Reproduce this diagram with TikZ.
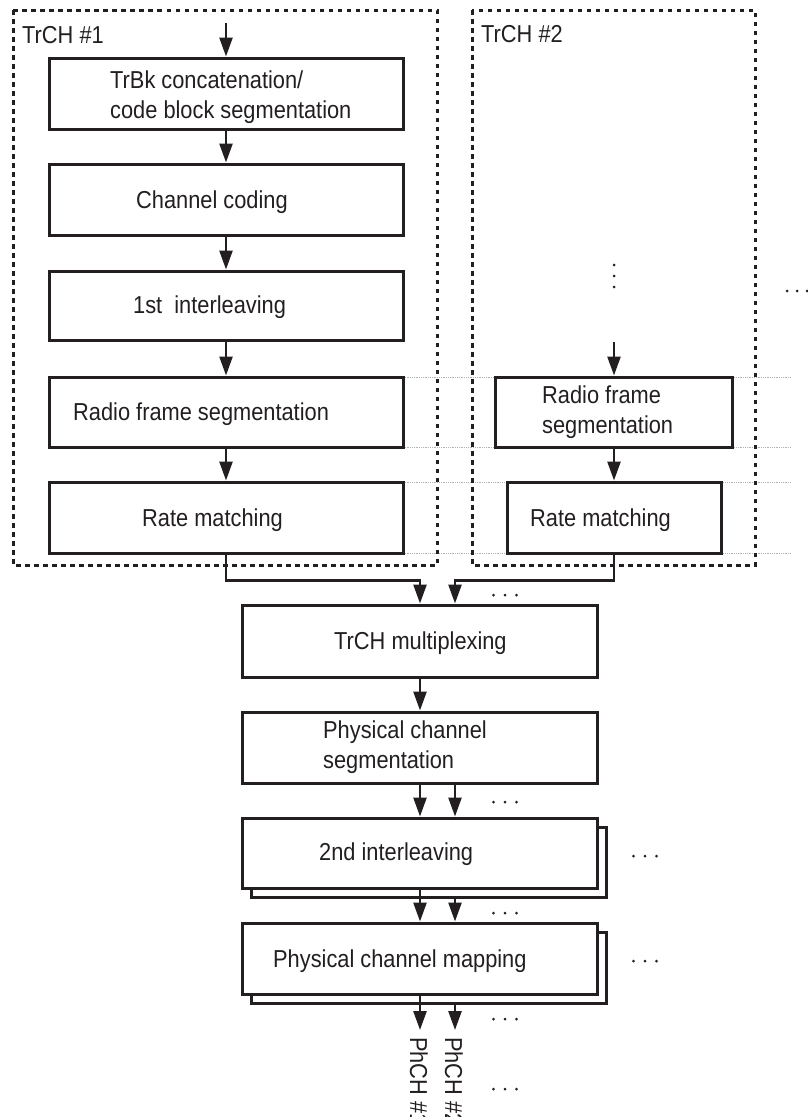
\documentclass[tikz,border=0pt]{standalone}
\usepackage{fontspec}
\setmainfont{Liberation Sans}[FakeStretch=0.89]
\usetikzlibrary{arrows.meta}
\definecolor{ink}{HTML}{231F20}
\begin{document}
\begin{tikzpicture}[x=1pt,y=-1pt,
  box/.style={draw=ink, line width=3pt, fill=white, inner sep=0pt},
  frame/.style={draw=ink, line width=3pt, dash pattern=on 4.5pt off 4.5pt},
  guide/.style={draw=gray!60, line width=1pt, dash pattern=on 1pt off 0.8pt},
  conn/.style={draw=ink, line width=2.5pt, -{Triangle[length=19pt,width=13pt]}},
  txt/.style={text=ink, font=\fontsize{24.5}{30}\selectfont, inner sep=0pt, anchor=base west},
  dot/.style={fill=ink}
]
\useasboundingbox (0,0) rectangle (808,1117);

% guide lines
\foreach \yy in {377,447,482,553} \draw[guide] (403,\yy) -- (791,\yy);

% group frames
\draw[frame] (13,10) rectangle (437,565);
\draw[frame] (472,10) rectangle (755,565);
\node[txt] (g1) at (22,43) {TrCH \#1};
\node[txt] (g2) at (481,42) {TrCH \#2};

% TrCH #1 chain
\node[box, minimum width=354pt, minimum height=71pt] (b1) at (226,93.5) {};
\node[box, minimum width=354pt, minimum height=71pt] (b2) at (226,199.5) {};
\node[box, minimum width=354pt, minimum height=69pt] (b3) at (226,305.5) {};
\node[box, minimum width=354pt, minimum height=70pt] (b4) at (226,412) {};
\node[box, minimum width=354pt, minimum height=71pt] (b5) at (226,517.5) {};
\node[txt] (t1) at (110,88) {\begin{tabular}[t]{@{}l@{}}TrBk concatenation/\\code block segmentation\end{tabular}};
\node[txt] (t2) at (136,208) {Channel coding};
\node[txt] (t3) at (133,313) {1st\ \ interleaving};
\node[txt] (t4) at (73,420) {Radio frame segmentation};
\node[txt] (t5) at (142,526) {Rate matching};

% TrCH #2 chain
\node[box, minimum width=237pt, minimum height=70pt] (c4) at (614,412) {};
\node[box, minimum width=214pt, minimum height=71pt] (c5) at (614,517.5) {};
\node[txt] (u4) at (542,403) {\begin{tabular}[t]{@{}l@{}}Radio frame\\segmentation\end{tabular}};
\node[txt] (u5) at (530,526) {Rate matching};
\foreach \yy in {265,276,287} \fill[dot] (614,\yy) circle (1.5);

% common chain
\node[box, minimum width=355pt, minimum height=72pt] (m1) at (420,641) {};
\node[box, minimum width=355pt, minimum height=71pt] (m2) at (420,747.5) {};
\node[box, minimum width=355pt, minimum height=70pt] (m3s) at (429,862) {};
\node[box, minimum width=355pt, minimum height=70pt] (m3) at (420,853) {};
\node[box, minimum width=355pt, minimum height=71pt] (m4s) at (429,967.5) {};
\node[box, minimum width=355pt, minimum height=71pt] (m4) at (420,958.5) {};
\node[txt] (tm1) at (334,649) {TrCH multiplexing};
\node[txt] (tm2) at (323,738) {\begin{tabular}[t]{@{}l@{}}Physical channel\\segmentation\end{tabular}};
\node[txt] (tm3) at (319,860) {2nd interleaving};
\node[txt] (tm4) at (273,967) {Physical channel mapping};

% connectors
\coordinate (in1) at (226,23);
\coordinate (in2) at (614,342);
\coordinate (o1) at (420,1030);
\coordinate (o2) at (455,1030);
\draw[conn] (in1) -- (b1.north);
\draw[conn] (b1.south) -- (b2.north);
\draw[conn] (b2.south) -- (b3.north);
\draw[conn] (b3.south) -- (b4.north);
\draw[conn] (b4.south) -- (b5.north);
\draw[conn] (in2) -- (c4.north);
\draw[conn] (c4.south) -- (c5.north);
\draw[conn] (b5.south) -- ++(0,26) -| (m1.north);
\draw[conn] (c5.south) -- ++(0,26) -| ([xshift=35pt]m1.north);
\draw[conn] (m1.south) -- (m2.north);
\draw[conn] (m2.south) -- (m3.north);
\draw[conn] ([xshift=35pt]m2.south) -- ([xshift=35pt]m3.north);
\draw[conn] (m3.south) -- (m4.north);
\draw[conn] ([xshift=26pt]m3s.south) -- ([xshift=35pt]m4.north);
\draw[conn] (m4.south) -- (o1);
\draw[conn] ([xshift=26pt]m4s.south) -- (o2);

% output labels
\node[txt, rotate=-90, anchor=west] (p1) at (419,1037) {PhCH \#1};
\node[txt, rotate=-90, anchor=west] (p2) at (454,1037) {PhCH \#2};

% ellipses
\foreach \x/\y in {505/595, 505/802, 505/913, 505/1019, 505/1089, 645/856, 645/961}
  \foreach \d in {-11.5,0,11.5} \fill[dot] (\x+\d,\y) circle (1.5);
\foreach \d in {787,797,807} \fill[dot] (\d,291) circle (1.5);
\end{tikzpicture}
\end{document}
